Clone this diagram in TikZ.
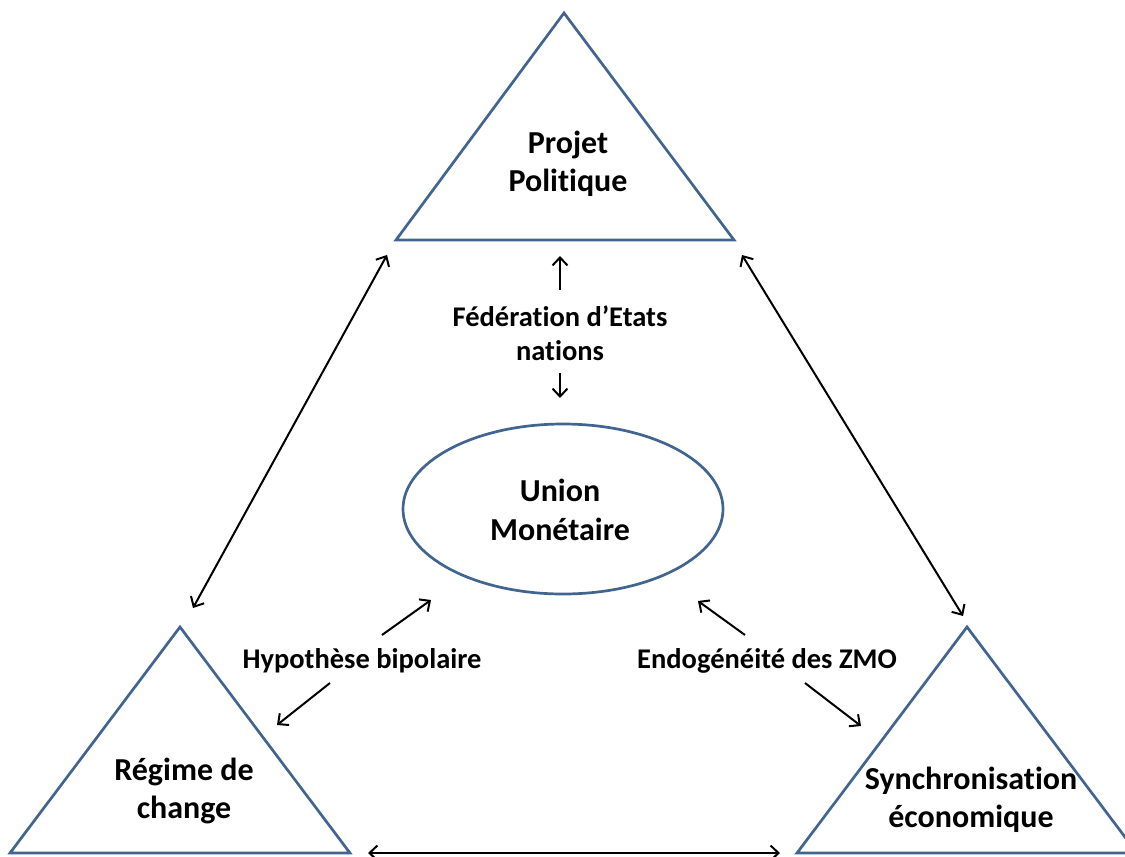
\documentclass[tikz,border=0pt]{standalone}
\usepackage{fontspec}
\setmainfont{Carlito}[RawFeature={-liga,-clig,-calt}]
\usetikzlibrary{arrows.meta,shapes.geometric}
\definecolor{tblue}{HTML}{41658F}
\begin{document}
\begin{tikzpicture}[x=1pt,y=-1pt,
  tri/.style={draw=tblue,line width=2.7pt,line join=miter},
  lbl/.style={font=\fontsize{28.5}{34.5}\selectfont\bfseries,align=center,inner sep=0pt},
  biglbl/.style={font=\fontsize{32}{38.5}\selectfont\bfseries,align=center,inner sep=0pt},
  tipb/.tip={Straight Barb[length=8pt,width=15pt,line width=2pt]},
  conn/.style={draw=black,line width=2pt,arrows={tipb-tipb}},
  oneway/.style={draw=black,line width=2pt,arrows={-tipb}},
]
\path[use as bounding box] (0,0) rectangle (1125,857);
\clip (0,0) rectangle (1125,857);
% triangles
\draw[tri] (564,13) -- (734,240) -- (396,240) -- cycle;
\draw[tri] (180,627) -- (350,853) -- (10,853) -- cycle;
\draw[tri] (967,627) -- (1137,853) -- (797,853) -- cycle;
% ellipse
\node[ellipse,draw=tblue,line width=2.7pt,minimum width=320pt,minimum height=170pt] (um) at (563,509) {};
% labels
\node[biglbl] (pp) at (568,164) {Projet\\Politique};
\node[biglbl] (rc) at (184,791) {Régime de\\change};
\node[biglbl] (se) at (971,800) {Synchronisation\\économique};
\node[biglbl] (umt) at (560,510) {Union\\Monétaire};
\node[lbl] (fe) at (560,333) {Fédération d’Etats\\nations};
\node[lbl] (hb) at (362,661) {Hypothèse bipolaire};
\node[lbl] (ez) at (767,661) {Endogénéité des ZMO};
% connector endpoints
\coordinate (a1) at (387,255);
\coordinate (a2) at (193,608);
\coordinate (b1) at (742,255);
\coordinate (b2) at (963,616);
\coordinate (c1) at (368,853);
\coordinate (c2) at (780,853);
\coordinate (d1) at (560,290);
\coordinate (d2) at (560,256);
\coordinate (e1) at (560,373);
\coordinate (e2) at (560,398);
\coordinate (f1) at (382,635);
\coordinate (f2) at (431,600);
\coordinate (g1) at (330,683);
\coordinate (g2) at (277,725);
\coordinate (h1) at (745,635);
\coordinate (h2) at (698,601);
\coordinate (i1) at (805,683);
\coordinate (i2) at (861,726);
% connectors
\draw[conn] (a1) -- (a2);
\draw[conn] (b1) -- (b2);
\draw[conn] (c1) -- (c2);
\draw[oneway] (d1) -- (d2);
\draw[oneway] (e1) -- (e2);
\draw[oneway] (f1) -- (f2);
\draw[oneway] (g1) -- (g2);
\draw[oneway] (h1) -- (h2);
\draw[oneway] (i1) -- (i2);
\end{tikzpicture}
\end{document}
